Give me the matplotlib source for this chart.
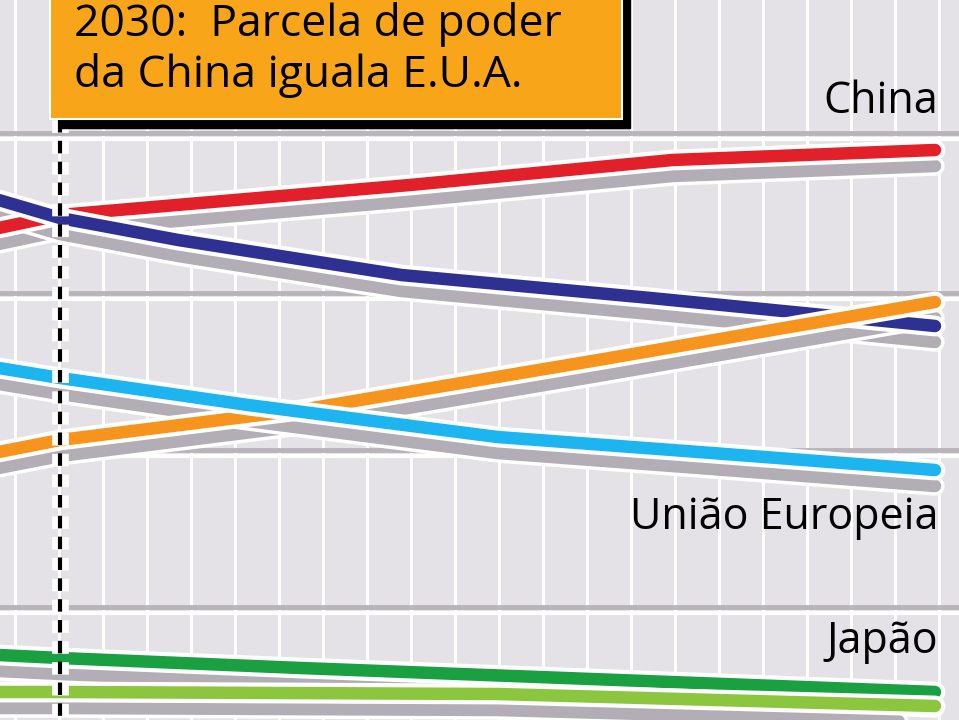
import matplotlib
matplotlib.use('Agg')
import matplotlib.pyplot as plt
import matplotlib.patheffects as pe
import numpy as np

# x in years, y in "share" units (plotted downward, chart crop)
years_china = [2028.6, 2030, 2038, 2044, 2050]
china = [228, 215, 185, 160, 150]
years_usa = [2028.6, 2030, 2032.7, 2037.8, 2043.5, 2050]
usa = [200, 218, 240, 275, 298, 326]
years_india = [2028.6, 2030, 2035.5, 2042.3, 2050]
india = [452, 440, 410, 360, 302]
years_eu = [2028.6, 2030, 2034.3, 2040, 2044.6, 2050]
eu = [368, 378, 405, 437, 452, 470]
years_jp = [2028.6, 2030, 2035.5, 2050]
japan = [655, 658, 668, 692]
years_br = [2028.6, 2030, 2040, 2050]
brazil = [692, 692, 694, 706]

BG = '#e4e2e6'
fig = plt.figure(figsize=(9.59, 7.2), dpi=100)
fig.patch.set_facecolor(BG)
ax = fig.add_axes([0, 0, 1, 1])
x0, x1 = 2030 - 60 / 43.75, 2030 + 899 / 43.75
ax.set_xlim(x0, x1); ax.set_ylim(720, 0)
ax.axis('off')

for k in range(25):
    xv = 2030 + (15 + 44 * k - 60) / 43.75
    ax.axvline(xv, color='white', lw=2.2, zorder=1)
for yv in [133, 293, 450, 607]:
    ax.axhline(yv + 6, color='white', lw=3, zorder=2)
    ax.axhline(yv, color='#b8b4ba', lw=3.5, zorder=2)

series = [(years_china, china, '#e2202a'), (years_usa, usa, '#2e3192'),
          (years_india, india, '#f7941d'), (years_eu, eu, '#1cb5f0'),
          (years_jp, japan, '#1aa040'), (years_br, brazil, '#8cc63f')]
for xs, ys, c in series:
    ax.plot(xs, np.array(ys) + 16, color='#b3adb5', lw=9, solid_capstyle='round', zorder=3,
            path_effects=[pe.Stroke(linewidth=14, foreground='white'), pe.Normal()])
for xs, ys, c in series:
    ax.plot(xs, ys, color=c, lw=9, solid_capstyle='round', zorder=4,
            path_effects=[pe.Stroke(linewidth=15, foreground='white'), pe.Normal()])

ax.plot([2030, 2030], [120, 720], color='black', lw=3, ls=(0, (3, 2)), zorder=5,
        path_effects=[pe.Stroke(linewidth=12, foreground='white'), pe.Normal()])

tx = lambda px: 2030 + (px - 60) / 43.75
ax.add_patch(plt.Rectangle((tx(60), -10), tx(630) - tx(60), 138, color='black', zorder=6))
ax.add_patch(plt.Rectangle((tx(50), -10), tx(622) - tx(50), 129, facecolor='#f9a51a',
                           edgecolor='white', lw=1.5, zorder=7))
ax.text(tx(74), 50, '2030:  Parcela de poder\nda China iguala E.U.A.', fontsize=32,
        family='Open Sans', va='center', ha='left', linespacing=1.2, zorder=8)

for label, yy in [('China', 102), ('União Europeia', 518), ('Japão', 642)]:
    ax.text(tx(938), yy, label, fontsize=31, family='Open Sans', ha='right', va='center', zorder=8)
ax.text(tx(265), 745, 'Brasil', fontsize=31, family='Open Sans', ha='left', va='center', zorder=8)

fig.savefig('out.png', dpi=100, facecolor=BG)
